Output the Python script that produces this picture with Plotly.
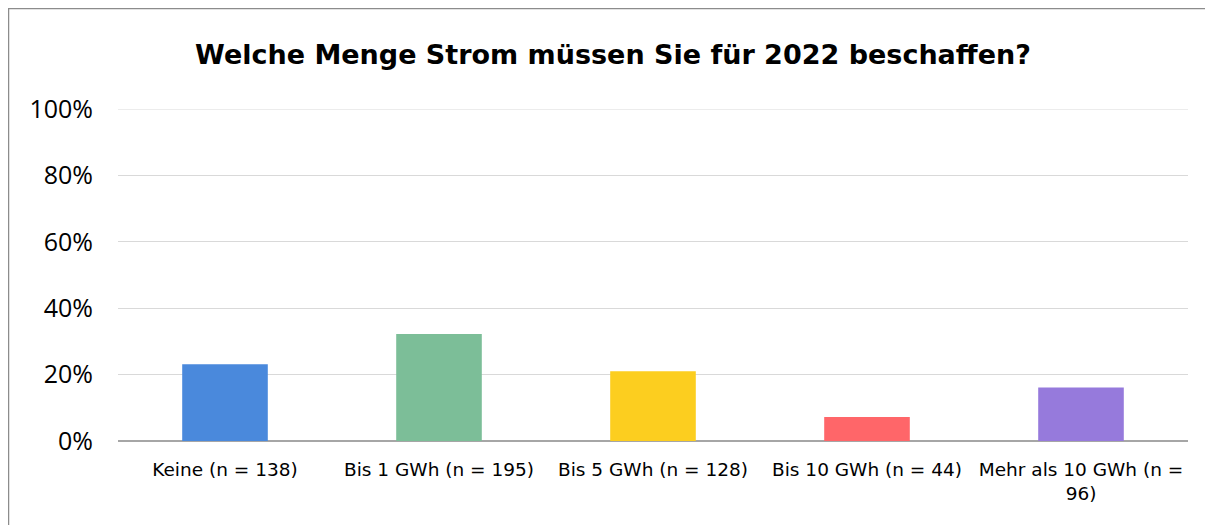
import plotly.graph_objects as go

categories = ["Keine (n = 138)", "Bis 1 GWh (n = 195)", "Bis 5 GWh (n = 128)",
              "Bis 10 GWh (n = 44)", "Mehr als 10 GWh (n =<br>96)"]
values = [23.1, 32.2, 21.0, 7.2, 16.1]
colors = ["#4A89DC", "#7CBE98", "#FCCE1F", "#FF6669", "#967ADC"]
y_ticks = [0, 20, 40, 60, 80, 100]
y_tick_labels = ["0%", "20%", "40%", "60%", "80%", "100%"]

FONT = "Open Sans, Noto Sans, sans-serif"
WIDE = "DejaVu Sans, sans-serif"

fig = go.Figure(go.Bar(x=categories, y=values, marker=dict(color=colors, line=dict(width=0)),
                       width=0.4, hoverinfo="skip"))

# page body has an 8px margin; figure coordinates are offset by it
W, H = 1205, 517
L, R, T, B = 110, 25, 101, 84
pw = W - L - R
ph = H - T - B

fig.update_layout(
    width=W, height=H,
    margin=dict(l=L, r=R, t=T, b=B),
    paper_bgcolor="white", plot_bgcolor="white",
    showlegend=False,
    title=dict(text="<b>Welche Menge Strom müssen Sie für 2022 beschaffen?</b>",
               font=dict(family=WIDE, size=27, color="#000000"),
               x=605 / W, xanchor="center", y=1 - 47 / H, yanchor="middle", yref="container"),
    xaxis=dict(tickfont=dict(family=WIDE, size=18.5, color="#000000"),
               showgrid=False, showline=False, ticks="", fixedrange=True,
               ticklabelstandoff=15),
    yaxis=dict(range=[0, 100], tickvals=y_ticks, ticktext=y_tick_labels,
               tickfont=dict(family=FONT, size=25, color="#000000"),
               showgrid=True, gridcolor="#D9D9D9", gridwidth=1,
               zeroline=True, zerolinecolor="#A6A6A6", zerolinewidth=2,
               showline=False, ticks="", ticklabelstandoff=24, fixedrange=True),
    shapes=[
        dict(type="line", xref="paper", yref="y", x0=0, x1=1, y0=y_ticks[-1], y1=y_ticks[-1],
             line=dict(color="#D9D9D9", width=1), layer="below"),
        # outer frame: top and left edges only
        dict(type="line", xref="paper", yref="paper",
             x0=(0 - L) / pw, x1=(W + 20 - L) / pw,
             y0=(H - B - 0.5) / ph, y1=(H - B - 0.5) / ph,
             line=dict(color="#8C8C8C", width=1.5), layer="below"),
        dict(type="line", xref="paper", yref="paper",
             x0=(0.5 - L) / pw, x1=(0.5 - L) / pw,
             y0=(H - B - 540) / ph, y1=(H - B) / ph,
             line=dict(color="#8C8C8C", width=1.5), layer="below"),
    ],
)

fig.write_html("out.html")
